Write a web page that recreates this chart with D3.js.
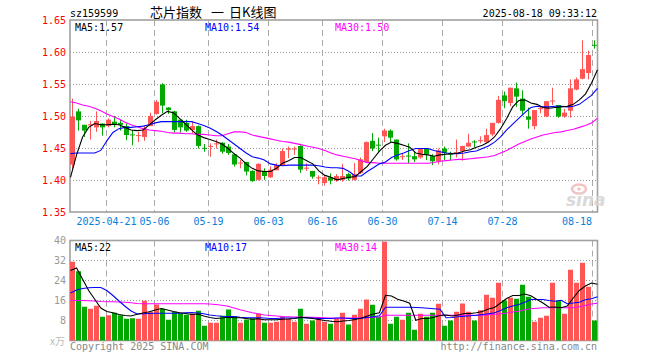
<!DOCTYPE html>
<html>
<head>
<meta charset="utf-8">
<script src="https://cdn.jsdelivr.net/npm/d3@7"></script>
<style>
  body { margin: 0; background: #fff; }
  svg { display: block; }
</style>
</head>
<body>
<div id="chart"></div>
<script>
// daily candles 2025-04-11 .. 2025-08-18 (88 trading days)
const opens = [
  1.425, 1.508, 1.487, 1.486, 1.483, 1.489, 1.485, 1.492, 1.490, 1.485,
  1.472, 1.470, 1.468, 1.485, 1.504, 1.550, 1.514, 1.508, 1.495, 1.490,
  1.479, 1.485, 1.451, 1.453, 1.457, 1.459, 1.453, 1.441, 1.427, 1.429,
  1.415, 1.401, 1.415, 1.405, 1.416, 1.424, 1.448, 1.449, 1.454, 1.419,
  1.415, 1.404, 1.396, 1.405, 1.400, 1.401, 1.410, 1.401, 1.412, 1.429,
  1.462, 1.456, 1.469, 1.478, 1.464, 1.437, 1.439, 1.438, 1.436, 1.450,
  1.438, 1.430, 1.450, 1.442, 1.442, 1.446, 1.453, 1.461, 1.462, 1.460,
  1.472, 1.490, 1.533, 1.521, 1.544, 1.528, 1.500, 1.485, 1.512, 1.500,
  1.524, 1.518, 1.500, 1.509, 1.542, 1.559, 1.568, 1.612
];
const highs = [
  1.528, 1.512, 1.487, 1.493, 1.508, 1.489, 1.497, 1.501, 1.495, 1.489,
  1.479, 1.476, 1.485, 1.506, 1.526, 1.552, 1.515, 1.509, 1.495, 1.495,
  1.492, 1.486, 1.457, 1.458, 1.464, 1.460, 1.457, 1.442, 1.432, 1.429,
  1.416, 1.427, 1.419, 1.422, 1.427, 1.450, 1.453, 1.453, 1.455, 1.427,
  1.415, 1.408, 1.408, 1.411, 1.410, 1.426, 1.412, 1.427, 1.436, 1.461,
  1.474, 1.467, 1.481, 1.480, 1.464, 1.442, 1.458, 1.445, 1.450, 1.450,
  1.441, 1.450, 1.453, 1.445, 1.464, 1.454, 1.473, 1.463, 1.469, 1.481,
  1.490, 1.532, 1.539, 1.545, 1.553, 1.541, 1.514, 1.510, 1.515, 1.524,
  1.545, 1.518, 1.512, 1.558, 1.561, 1.619, 1.603, 1.619
];
const lows = [
  1.418, 1.478, 1.468, 1.464, 1.476, 1.470, 1.483, 1.483, 1.478, 1.463,
  1.455, 1.460, 1.462, 1.485, 1.503, 1.505, 1.504, 1.475, 1.475, 1.476,
  1.474, 1.450, 1.445, 1.437, 1.450, 1.442, 1.440, 1.422, 1.419, 1.408,
  1.398, 1.400, 1.401, 1.404, 1.416, 1.423, 1.435, 1.440, 1.412, 1.415,
  1.403, 1.394, 1.392, 1.394, 1.398, 1.398, 1.400, 1.400, 1.410, 1.428,
  1.446, 1.445, 1.460, 1.460, 1.431, 1.432, 1.427, 1.429, 1.434, 1.432,
  1.424, 1.425, 1.432, 1.432, 1.436, 1.431, 1.452, 1.452, 1.458, 1.458,
  1.469, 1.489, 1.513, 1.516, 1.515, 1.502, 1.481, 1.480, 1.505, 1.499,
  1.518, 1.498, 1.498, 1.498, 1.541, 1.558, 1.558, 1.606
];
const closes = [
  1.500, 1.494, 1.478, 1.488, 1.493, 1.483, 1.495, 1.488, 1.487, 1.471,
  1.471, 1.471, 1.481, 1.501, 1.523, 1.517, 1.510, 1.479, 1.483, 1.478,
  1.485, 1.454, 1.450, 1.454, 1.458, 1.445, 1.443, 1.425, 1.428, 1.414,
  1.399, 1.426, 1.407, 1.417, 1.424, 1.446, 1.450, 1.450, 1.417, 1.420,
  1.406, 1.405, 1.405, 1.400, 1.407, 1.407, 1.403, 1.410, 1.433, 1.460,
  1.450, 1.455, 1.478, 1.467, 1.433, 1.438, 1.438, 1.433, 1.450, 1.441,
  1.430, 1.447, 1.443, 1.441, 1.444, 1.454, 1.459, 1.460, 1.463, 1.471,
  1.490, 1.526, 1.524, 1.545, 1.531, 1.509, 1.495, 1.510, 1.513, 1.524,
  1.525, 1.500, 1.506, 1.544, 1.558, 1.574, 1.596, 1.611
];
// volume, 万手
const volumes = [
  31.5, 27.7, 13.5, 12.7, 13.9, 9.5, 10.1, 11.1, 10.1, 8.7,
  8.9, 8.7, 15.9, 11.5, 14.4, 12.7, 8.3, 11.5, 10.9, 10.3,
  10.8, 11.9, 5.9, 7.1, 7.1, 9.9, 12.4, 9.7, 7.1, 8.4,
  8.9, 10.7, 7.1, 7.1, 7.5, 9.5, 8.8, 7.5, 12.7, 6.7,
  8.0, 9.1, 7.5, 6.7, 8.8, 11.1, 6.4, 10.3, 12.7, 16.4,
  14.3, 9.5, 39.5, 6.7, 9.5, 8.3, 11.1, 4.3, 10.7, 9.5,
  11.1, 14.7, 5.9, 8.0, 11.5, 14.8, 11.5, 8.0, 12.1, 18.3,
  17.1, 23.1, 16.0, 17.1, 16.7, 22.3, 17.5, 7.5, 9.1, 9.9,
  23.1, 16.0, 10.7, 28.3, 23.1, 31.1, 21.5, 8.0
];

// moving averages as shown on the chart
const ma5 = [
  1.405, 1.440, 1.468, 1.483, 1.489, 1.487, 1.487, 1.488, 1.487, 1.483,
  1.479, 1.478, 1.479, 1.487, 1.495, 1.502, 1.508, 1.506, 1.497, 1.488,
  1.479, 1.471, 1.467, 1.464, 1.461, 1.457, 1.450, 1.442, 1.435, 1.426,
  1.419, 1.415, 1.414, 1.414, 1.419, 1.427, 1.431, 1.436, 1.436, 1.431,
  1.426, 1.415, 1.408, 1.405, 1.401, 1.403, 1.405, 1.406, 1.414, 1.422,
  1.434, 1.446, 1.455, 1.460, 1.458, 1.455, 1.452, 1.443, 1.441, 1.440,
  1.438, 1.440, 1.441, 1.442, 1.443, 1.446, 1.448, 1.452, 1.455, 1.460,
  1.468, 1.481, 1.497, 1.515, 1.525, 1.526, 1.521, 1.519, 1.514, 1.513,
  1.514, 1.515, 1.516, 1.519, 1.526, 1.535, 1.552, 1.573
];
const ma10 = [
  1.442, 1.443, 1.443, 1.443, 1.443, 1.447, 1.462, 1.475, 1.481, 1.483,
  1.483, 1.484, 1.485, 1.487, 1.490, 1.492, 1.492, 1.492, 1.492, 1.492,
  1.492, 1.489, 1.486, 1.482, 1.477, 1.471, 1.464, 1.457, 1.450, 1.443,
  1.437, 1.435, 1.432, 1.426, 1.424, 1.423, 1.424, 1.424, 1.424, 1.424,
  1.424, 1.423, 1.421, 1.420, 1.420, 1.419, 1.414, 1.407, 1.407, 1.414,
  1.420, 1.426, 1.429, 1.436, 1.440, 1.443, 1.447, 1.450, 1.450, 1.450,
  1.447, 1.445, 1.443, 1.442, 1.442, 1.443, 1.445, 1.446, 1.450, 1.454,
  1.460, 1.468, 1.479, 1.488, 1.497, 1.506, 1.514, 1.516, 1.515, 1.515,
  1.516, 1.516, 1.515, 1.516, 1.519, 1.526, 1.533, 1.544
];
const ma30 = [
  1.523, 1.521, 1.518, 1.516, 1.513, 1.509, 1.504, 1.500, 1.496, 1.491,
  1.487, 1.484, 1.481, 1.479, 1.478, 1.477, 1.475, 1.474, 1.474, 1.473,
  1.473, 1.472, 1.472, 1.471, 1.470, 1.470, 1.473, 1.476, 1.476, 1.475,
  1.471, 1.469, 1.467, 1.465, 1.463, 1.461, 1.460, 1.458, 1.456, 1.454,
  1.452, 1.450, 1.447, 1.443, 1.440, 1.438, 1.436, 1.434, 1.431, 1.428,
  1.428, 1.427, 1.427, 1.427, 1.427, 1.427, 1.427, 1.427, 1.427, 1.427,
  1.428, 1.430, 1.431, 1.432, 1.433, 1.433, 1.434, 1.435, 1.436, 1.437,
  1.439, 1.443, 1.447, 1.452, 1.457, 1.461, 1.465, 1.468, 1.471, 1.473,
  1.475, 1.476, 1.478, 1.480, 1.483, 1.486, 1.490, 1.497
];
const vma5 = [
  28.0, 29.0, 24.5, 20.0, 16.5, 13.0, 11.6, 11.1, 10.4, 10.0,
  9.8, 10.5, 11.0, 11.5, 12.2, 12.8, 12.2, 11.6, 11.1, 10.8,
  10.4, 10.6, 9.8, 9.2, 8.8, 9.0, 9.3, 9.1, 9.1, 8.8,
  8.5, 8.7, 8.3, 8.3, 8.3, 8.5, 8.6, 8.8, 9.3, 9.1,
  8.8, 8.4, 8.0, 7.7, 7.5, 7.8, 8.0, 8.4, 9.0, 9.8,
  10.6, 11.1, 18.1, 17.8, 16.5, 15.8, 14.9, 8.1, 8.8, 8.8,
  9.3, 10.0, 10.2, 9.8, 10.2, 10.8, 10.8, 11.1, 11.6, 12.6,
  13.2, 15.0, 16.8, 18.0, 18.0, 18.6, 17.9, 16.4, 15.0, 13.3,
  13.4, 13.1, 13.8, 17.0, 20.0, 21.8, 23.0, 22.5
];
const vma10 = [
  19.0, 20.2, 20.8, 21.1, 21.2, 21.2, 20.0, 18.0, 15.8, 13.7,
  11.8, 10.6, 10.7, 10.8, 10.9, 10.9, 10.9, 10.9, 10.9, 11.1,
  11.2, 11.0, 10.7, 10.2, 9.9, 9.7, 9.6, 9.6, 9.3, 9.1,
  9.1, 9.1, 9.0, 8.8, 8.8, 9.0, 9.0, 9.0, 9.2, 9.0,
  9.0, 8.8, 8.8, 8.8, 9.0, 9.0, 8.8, 8.8, 8.9, 9.2,
  9.5, 9.9, 13.3, 13.3, 13.3, 13.3, 13.3, 13.2, 13.1, 12.9,
  12.7, 12.5, 9.1, 9.2, 9.5, 9.7, 9.9, 10.1, 10.4, 10.7,
  11.1, 12.0, 13.1, 13.8, 14.4, 15.3, 16.4, 16.4, 16.4, 16.0,
  15.7, 16.1, 14.7, 15.0, 15.3, 16.3, 16.7, 17.5
];
const vma30 = [
  16.0, 16.0, 16.0, 15.9, 15.8, 15.6, 15.5, 15.5, 15.4, 15.3,
  15.1, 14.8, 14.7, 14.7, 14.7, 14.7, 14.7, 14.7, 14.7, 14.7,
  14.7, 14.7, 14.7, 14.6, 14.4, 14.1, 13.7, 13.0, 12.3, 11.7,
  11.1, 10.7, 10.2, 10.0, 9.8, 9.6, 9.5, 9.4, 9.4, 9.3,
  9.3, 9.2, 9.1, 9.0, 8.9, 8.9, 9.0, 9.0, 9.1, 9.2,
  9.3, 9.4, 10.1, 10.1, 10.1, 10.1, 10.1, 10.1, 10.1, 10.1,
  10.1, 10.1, 10.1, 10.1, 10.1, 10.1, 10.1, 10.1, 10.1, 10.3,
  10.5, 10.7, 11.0, 11.4, 11.7, 12.3, 12.7, 12.9, 13.1, 13.1,
  13.1, 13.1, 13.1, 13.1, 13.5, 14.0, 14.6, 14.9
];

// x axis ticks (candle index -> label)
const tickIdx = [6, 14, 23, 33, 42, 52, 62, 72, 87];
const tickLabels = ["2025-04-21", "05-06", "05-19", "06-03", "06-16", "06-30", "07-14", "07-28", "08-18"];
const priceTicks = [1.35, 1.40, 1.45, 1.50, 1.55, 1.60, 1.65];
const volTicks = [8, 16, 24, 32, 40];

const width = 660, height = 360;
const mono = "'DejaVu Sans Mono', monospace";
const RED = "#ff5555", GREEN = "#00a800";

const svg = d3.select("#chart").append("svg")
  .attr("width", width)
  .attr("height", height)
  .style("font-family", mono)
  .style("font-size", "10px");

const n = closes.length;
const x = d3.scaleBand().domain(d3.range(n)).range([70, 70 + 6 * n]);
// MA lines are stretched over the full panel width
const xm = d3.scalePoint().domain(d3.range(n)).range([70.5, 597.5]);
const y = d3.scaleLinear().domain([1.35, 1.65]).range([212.5, 20.5]);
const yv = d3.scaleLinear().domain([0, 40]).range([340.5, 240.5]);

const isUp = i => closes[i] >= opens[i];

// ---- grid
const grid = svg.append("g");
[[20, 212], [240.5, 340.5]].forEach(([t, b]) => {
  grid.selectAll(null)
    .data(tickIdx)
    .join("line")
    .attr("x1", i => x(i) + 0.5).attr("x2", i => x(i) + 0.5)
    .attr("y1", t).attr("y2", b)
    .attr("stroke", "#aaa")
    .attr("stroke-dasharray", "6,4");
});
grid.selectAll(null)
  .data(priceTicks.slice(1, -1))
  .join("line")
  .attr("x1", 70).attr("x2", 597)
  .attr("y1", d => Math.floor(y(d)) + 0.5).attr("y2", d => Math.floor(y(d)) + 0.5)
  .attr("stroke", "#999")
  .attr("stroke-dasharray", "1,2");
grid.selectAll(null)
  .data(volTicks.slice(0, -1))
  .join("line")
  .attr("x1", 70).attr("x2", 597)
  .attr("y1", d => yv(d)).attr("y2", d => yv(d))
  .attr("stroke", "#999")
  .attr("stroke-dasharray", "1,2");

// ---- frames
svg.append("rect")
  .attr("x", 70).attr("y", 20).attr("width", 527.5).attr("height", 192)
  .attr("fill", "none").attr("stroke", "#a0a0a0").attr("stroke-width", 1.6);
svg.append("rect")
  .attr("x", 70).attr("y", 240.5).attr("width", 527.5).attr("height", 100)
  .attr("fill", "none").attr("stroke", "#a0a0a0").attr("stroke-width", 1.6);

// ---- sina watermark
const logo = svg.append("g").attr("opacity", 0.9);
logo.append("ellipse").attr("cx", 579).attr("cy", 189).attr("rx", 7).attr("ry", 4.5)
  .attr("fill", "none").attr("stroke", "#f2bcbc").attr("stroke-width", 2.5);
logo.append("circle").attr("cx", 579).attr("cy", 189).attr("r", 1.8).attr("fill", "#f2bcbc");
logo.append("text").attr("x", 566).attr("y", 206)
  .style("font-family", "'DejaVu Sans', sans-serif")
  .style("font-size", "17px").style("font-weight", "bold").style("font-style", "italic")
  .attr("fill", "#d6d6d6").text("sina");

// ---- candles
const candles = svg.append("g")
  .selectAll("g")
  .data(d3.range(n))
  .join("g");

candles.append("line")
  .attr("x1", i => x(i) + 2.5).attr("x2", i => x(i) + 2.5)
  .attr("y1", i => y(highs[i])).attr("y2", i => y(lows[i]))
  .attr("stroke", i => isUp(i) ? RED : GREEN);

candles.append("rect")
  .attr("x", i => x(i))
  .attr("width", 5)
  .attr("y", i => y(Math.max(opens[i], closes[i])))
  .attr("height", i => Math.max(1, Math.abs(y(opens[i]) - y(closes[i]))))
  .attr("fill", i => isUp(i) ? RED : GREEN);

// ---- volume bars
svg.append("g")
  .selectAll("rect")
  .data(volumes)
  .join("rect")
  .attr("x", (d, i) => x(i))
  .attr("width", 5)
  .attr("y", d => yv(d))
  .attr("height", d => yv(0) - yv(d))
  .attr("fill", (d, i) => isUp(i) ? RED : GREEN);

// ---- moving average lines
const priceLine = d3.line().x((d, i) => xm(i)).y(d => y(d));
const volLine = d3.line().x((d, i) => xm(i)).y(d => yv(d));
[[ma30, "#ff00ff"], [ma10, "#0000ff"], [ma5, "#000"]].forEach(([s, c]) => {
  svg.append("path").datum(s).attr("d", priceLine)
    .attr("fill", "none").attr("stroke", c).attr("stroke-width", 1.1);
});
[[vma30, "#ff00ff"], [vma10, "#0000ff"], [vma5, "#000"]].forEach(([s, c]) => {
  svg.append("path").datum(s).attr("d", volLine)
    .attr("fill", "none").attr("stroke", c).attr("stroke-width", 1.1);
});

// ---- axes
const yAxis = svg.append("g")
  .attr("transform", "translate(70,0)")
  .call(d3.axisLeft(y).tickValues(priceTicks).tickSize(0).tickPadding(4).tickFormat(d3.format(".2f")));
yAxis.select(".domain").remove();
yAxis.selectAll("text").attr("fill", "#f00").style("font-family", mono).style("font-size", "10px");

const vAxis = svg.append("g")
  .attr("transform", "translate(70,0)")
  .call(d3.axisLeft(yv).tickValues(volTicks).tickSize(0).tickPadding(4));
vAxis.select(".domain").remove();
vAxis.selectAll("text").attr("fill", "#999").style("font-family", mono).style("font-size", "10px");

svg.append("text").attr("x", 65).attr("y", 345).attr("text-anchor", "end")
  .attr("fill", "#bbb")
  .style("font-family", "'Noto Sans CJK SC', sans-serif").style("font-size", "10px")
  .text("x万");

svg.append("g").selectAll("text")
  .data(tickIdx)
  .join("text")
  .attr("x", (d, k) => k === tickIdx.length - 1 ? x(d) : x(d) + 0.5)
  .attr("y", 225)
  .attr("text-anchor", (d, k) => k === tickIdx.length - 1 ? "end" : "middle")
  .attr("fill", "#0780dc")
  .text((d, k) => tickLabels[k]);

// ---- header texts
svg.append("text").attr("x", 70).attr("y", 16.5).attr("fill", "#000").text("sz159599");
const cjk = "'Noto Sans CJK SC', sans-serif";
[["芯片指数", 150], ["一", 211], ["日K线图", 229]].forEach(([t, px]) => {
  svg.append("text").attr("x", px).attr("y", 16.5)
    .style("font-family", cjk).style("font-size", "13px")
    .attr("fill", "#000").text(t);
});
svg.append("text").attr("x", 597).attr("y", 16.5).attr("text-anchor", "end")
  .attr("fill", "#000").text("2025-08-18 09:33:12");

const maLabels = [["MA5:1.57", 75, "#000"], ["MA10:1.54", 205, "#0000ff"], ["MA30:1.50", 335, "#ff00ff"]];
maLabels.forEach(([t, px, c]) => {
  svg.append("text").attr("x", px).attr("y", 30.5).attr("fill", c).text(t);
});
const vmaLabels = [["MA5:22", 75, "#000"], ["MA10:17", 205, "#0000ff"], ["MA30:14", 335, "#ff00ff"]];
vmaLabels.forEach(([t, px, c]) => {
  svg.append("text").attr("x", px).attr("y", 250.5).attr("fill", c).text(t);
});

svg.append("text").attr("x", 70).attr("y", 349.5).attr("fill", "#888")
  .text("Copyright 2025 SINA.COM");
svg.append("text").attr("x", 597).attr("y", 349.5).attr("text-anchor", "end").attr("fill", "#888")
  .text("http://finance.sina.com.cn");
</script>
</body>
</html>
